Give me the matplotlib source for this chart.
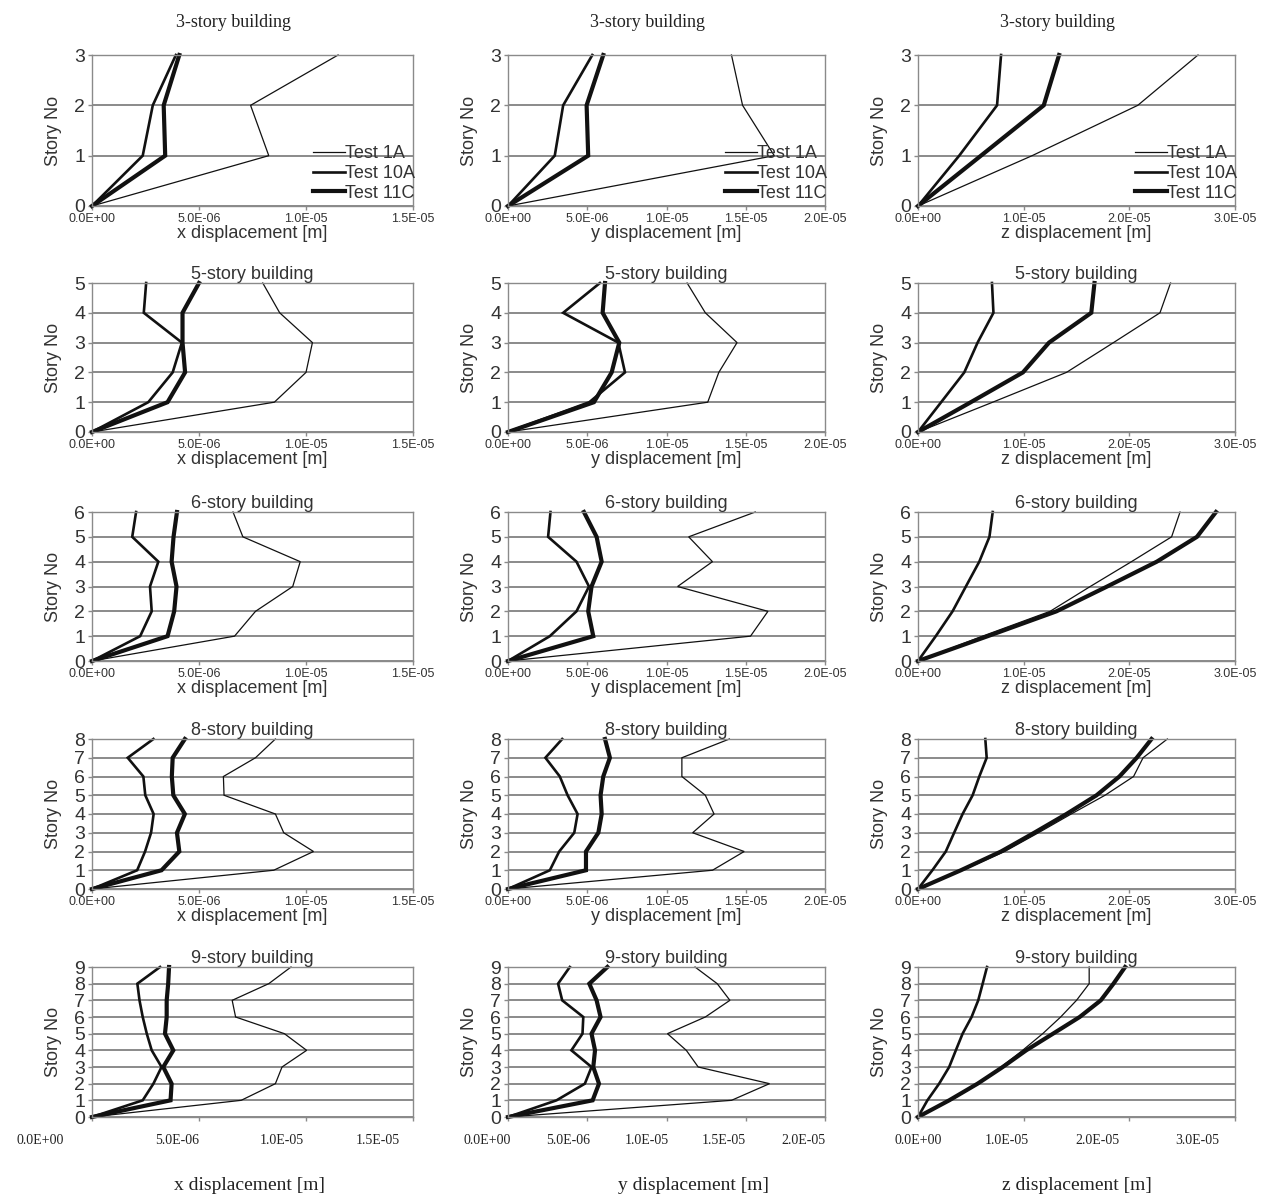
import matplotlib
matplotlib.use("Agg")
import matplotlib.pyplot as plt
import numpy as np

# displacement values in 1e-6 m, story 0 .. top
stories = [3, 5, 6, 8, 9]
tests = ["Test 1A", "Test 10A", "Test 11C"]
directions = ["x", "y", "z"]
x_ticks = [[0, 5e-6, 1e-5, 1.5e-5], [0, 5e-6, 1e-5, 1.5e-5, 2e-5], [0, 1e-5, 2e-5, 3e-5]]

# 3-story
x3_1a = [0, 8.26, 7.41, 11.5]
x3_10a = [0, 2.37, 2.84, 3.92]
x3_11c = [0, 3.42, 3.35, 4.08]
y3_1a = [0, 16.8, 14.8, 14.1]
y3_10a = [0, 2.95, 3.48, 5.32]
y3_11c = [0, 5.06, 4.96, 6.01]
z3_1a = [0, 10.8, 20.8, 26.5]
z3_10a = [0, 3.9, 7.48, 7.86]
z3_11c = [0, 5.96, 11.9, 13.35]

# 5-story
x5_1a = [0, 8.52, 10.0, 10.3, 8.77, 7.98]
x5_10a = [0, 2.63, 3.77, 4.2, 2.42, 2.53]
x5_11c = [0, 3.53, 4.35, 4.23, 4.23, 5.0]
y5_1a = [0, 12.6, 13.3, 14.45, 12.45, 11.3]
y5_10a = [0, 5.13, 7.38, 6.96, 3.48, 5.8]
y5_11c = [0, 5.42, 6.54, 7.02, 5.97, 6.12]
z5_1a = [0, 7.07, 14.05, 18.5, 22.9, 23.9]
z5_10a = [0, 2.19, 4.38, 5.64, 7.14, 7.0]
z5_11c = [0, 5.0, 9.93, 12.4, 16.4, 16.7]

# 6-story
x6_1a = [0, 6.66, 7.64, 9.38, 9.73, 7.05, 6.59]
x6_10a = [0, 2.25, 2.79, 2.71, 3.10, 1.88, 2.06]
x6_11c = [0, 3.53, 3.84, 3.95, 3.72, 3.81, 3.97]
y6_1a = [0, 15.3, 16.4, 10.7, 12.9, 11.4, 15.6]
y6_10a = [0, 2.64, 4.32, 5.11, 4.32, 2.53, 2.68]
y6_11c = [0, 5.38, 5.06, 5.27, 5.91, 5.59, 4.79]
z6_1a = [0, 6.1, 12.5, 16.3, 20.2, 24.0, 24.8]
z6_10a = [0, 1.68, 3.27, 4.53, 5.8, 6.76, 7.07]
z6_11c = [0, 6.6, 13.1, 17.9, 22.6, 26.4, 28.2]

# 8-story
x8_1a = [0, 8.49, 10.35, 8.96, 8.57, 6.17, 6.14, 7.64, 8.57]
x8_10a = [0, 2.11, 2.48, 2.76, 2.88, 2.49, 2.40, 1.67, 2.87]
x8_11c = [0, 3.25, 4.08, 3.97, 4.34, 3.80, 3.73, 3.77, 4.34]
y8_1a = [0, 12.9, 14.9, 11.65, 13.0, 12.45, 10.97, 10.97, 13.97]
y8_10a = [0, 2.64, 3.23, 4.18, 4.39, 3.76, 3.27, 2.36, 3.42]
y8_11c = [0, 4.92, 4.92, 5.70, 5.91, 5.84, 6.01, 6.43, 6.12]
z8_1a = [0, 4.2, 8.2, 11.4, 14.5, 17.7, 20.4, 21.3, 23.6]
z8_10a = [0, 1.36, 2.63, 3.42, 4.22, 5.17, 5.8, 6.5, 6.37]
z8_11c = [0, 4.06, 7.86, 11.0, 14.05, 16.9, 19.06, 20.7, 22.1]

# 9-story
x9_1a = [0, 6.97, 8.57, 8.88, 10.03, 8.99, 6.71, 6.55, 8.26, 9.3]
x9_10a = [0, 2.37, 2.87, 3.25, 2.79, 2.56, 2.37, 2.22, 2.12, 3.18]
x9_11c = [0, 3.67, 3.72, 3.33, 3.80, 3.41, 3.49, 3.49, 3.56, 3.6]
y9_1a = [0, 14.1, 16.5, 12.0, 11.25, 10.06, 12.45, 14.0, 13.2, 11.8]
y9_10a = [0, 3.06, 4.85, 5.27, 4.0, 4.7, 4.75, 3.42, 3.16, 3.9]
y9_11c = [0, 5.34, 5.74, 5.38, 5.49, 5.27, 5.84, 5.59, 5.13, 6.27]
z9_1a = [0, 3.1, 5.74, 7.86, 9.9, 11.8, 13.5, 15.0, 16.2, 16.2]
z9_10a = [0, 0.89, 2.0, 2.95, 3.58, 4.22, 5.07, 5.7, 6.12, 6.53]
z9_11c = [0, 2.95, 5.64, 8.02, 10.24, 12.78, 15.3, 17.3, 18.5, 19.6]

panels = [
    [(x3_1a, x3_10a, x3_11c), (y3_1a, y3_10a, y3_11c), (z3_1a, z3_10a, z3_11c)],
    [(x5_1a, x5_10a, x5_11c), (y5_1a, y5_10a, y5_11c), (z5_1a, z5_10a, z5_11c)],
    [(x6_1a, x6_10a, x6_11c), (y6_1a, y6_10a, y6_11c), (z6_1a, z6_10a, z6_11c)],
    [(x8_1a, x8_10a, x8_11c), (y8_1a, y8_10a, y8_11c), (z8_1a, z8_10a, z8_11c)],
    [(x9_1a, x9_10a, x9_11c), (y9_1a, y9_10a, y9_11c), (z9_1a, z9_10a, z9_11c)],
]

# layout in pixels
W, H = 1269, 1196
col_px = [(92, 413), (508, 825), (918, 1235)]
row_px = [(55, 206), (283, 432), (512, 661), (739, 889), (967, 1117)]
line_widths = [0.9, 1.9, 3.0]
# the bottom row labels sit off their ticks in the original
bottom_label_px = [[40, 177, 282, 378], [487, 568, 647, 724, 803], [918, 1007, 1097, 1197]]
bottom_xlabel_px = [250, 693, 1077]

SANS = "Liberation Sans"
SERIF = "Liberation Serif"
GRID = "#8a8a8a"
TXT = "#333333"

fig = plt.figure(figsize=(W / 100, H / 100), dpi=100)
fig.patch.set_facecolor("white")

for r, n in enumerate(stories):
    top, bottom = row_px[r]
    for c, d in enumerate(directions):
        left, right = col_px[c]
        ax = fig.add_axes([left / W, 1 - bottom / H, (right - left) / W, (bottom - top) / H])
        levels = np.arange(n + 1)
        for vals, lw, name in zip(panels[r][c], line_widths, tests):
            ax.plot(np.array(vals) * 1e-6, levels, color="#111111", lw=lw,
                    solid_joinstyle="miter", label=name, clip_on=False)
        ax.set_xlim(0, x_ticks[c][-1])
        ax.set_ylim(0, n)
        ax.set_yticks(levels)
        ax.set_xticks(x_ticks[c])
        ax.grid(axis="y", color=GRID, lw=1.4)
        ax.set_axisbelow(True)
        for s in ax.spines.values():
            s.set_color(GRID)
            s.set_linewidth(1.0)
        ax.tick_params(axis="both", colors=GRID, length=3, width=1.0)
        ax.tick_params(axis="y", labelcolor=TXT, labelsize=14, pad=2)
        for t in ax.get_yticklabels():
            t.set_fontfamily(SANS)
        ax.set_ylabel("Story No", fontsize=13, family=SANS, color=TXT)
        ax.yaxis.set_label_coords(-30 / (right - left), 0.5)

        tick_text = ["{:.1E}".format(v) for v in x_ticks[c]]
        xlabel = f"{d} displacement [m]"
        if r < len(stories) - 1:
            ax.set_xticklabels(tick_text, fontsize=9, family=SANS, color=TXT)
            ax.tick_params(axis="x", pad=2)
            ax.set_xlabel(xlabel, fontsize=13, family=SANS, color=TXT, labelpad=0)
        else:
            ax.set_xticklabels([])
            for px, t in zip(bottom_label_px[c], tick_text):
                fig.text(px / W, 1 - 1140 / H, t, ha="center", va="center",
                         fontsize=10, family=SERIF, color="#222222")
            fig.text(bottom_xlabel_px[c] / W, 1 - 1185 / H, xlabel, ha="center",
                     va="center", fontsize=14, family=SERIF, color="#222222")

        title = f"{n}-story building"
        if r == 0:
            ax.set_title(title, fontsize=13, family=SERIF, color="#222222", x=0.44, pad=20)
            ax.legend(loc="lower right", bbox_to_anchor=(1.03, -0.02), frameon=False,
                      prop={"family": SANS, "size": 13}, handlelength=1.8,
                      handletextpad=0.0, labelspacing=0.15, borderaxespad=0.0,
                      labelcolor=TXT)
        else:
            ax.set_title(title, fontsize=13, family=SANS, color=TXT, pad=2)

fig.savefig("out.png", dpi=100, facecolor="white")
